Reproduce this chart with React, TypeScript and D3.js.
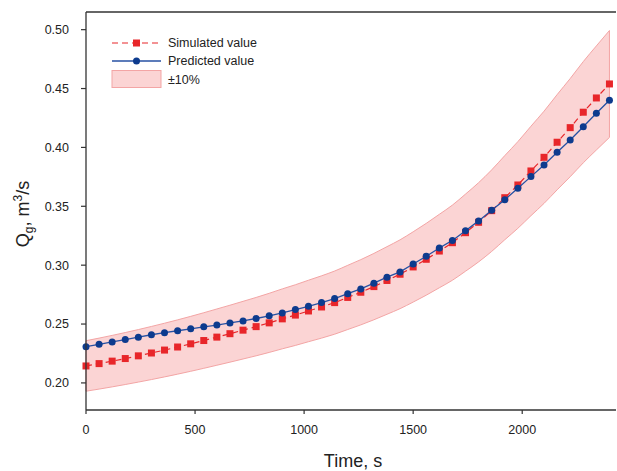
import React from "react";
import * as d3 from "d3";

// Sampling times (s)
const times: number[] = [
  0, 60, 120, 180, 240, 300, 360, 420, 480, 540, 600, 660, 720, 780, 840, 900,
  960, 1020, 1080, 1140, 1200, 1260, 1320, 1380, 1440, 1500, 1560, 1620, 1680,
  1740, 1800, 1860, 1920, 1980, 2040, 2100, 2160, 2220, 2280, 2340, 2400,
];

// Simulated gas flow rate Qg (m³/s)
const simulated: number[] = [
  0.2144, 0.2164, 0.2185, 0.2207, 0.223, 0.2254, 0.2279, 0.2305, 0.2332,
  0.236, 0.2389, 0.2418, 0.2448, 0.2478, 0.251, 0.2544, 0.2576, 0.2611,
  0.2645, 0.2682, 0.2726, 0.277, 0.2818, 0.287, 0.2923, 0.2985, 0.305, 0.312,
  0.3191, 0.3276, 0.3364, 0.3463, 0.3573, 0.3681, 0.38, 0.3916, 0.4044,
  0.4168, 0.4299, 0.442, 0.4539,
];

// Predicted gas flow rate Qg (m³/s)
const predicted: number[] = [
  0.2308, 0.2328, 0.2348, 0.2368, 0.2388, 0.2409, 0.2427, 0.2443, 0.2459,
  0.2476, 0.2491, 0.2509, 0.2526, 0.2547, 0.257, 0.2594, 0.2623, 0.2651,
  0.2682, 0.2716, 0.2758, 0.2798, 0.2847, 0.2898, 0.2943, 0.301, 0.3076,
  0.3146, 0.321, 0.3293, 0.3376, 0.3466, 0.3556, 0.3653, 0.3752, 0.3851,
  0.3959, 0.4063, 0.4176, 0.429, 0.44,
];

const xTicks: number[] = [0, 500, 1000, 1500, 2000];
const yTicks: number[] = [0.2, 0.25, 0.3, 0.35, 0.4, 0.45, 0.5];
const bandFraction = 0.1;

const W = 617;
const H = 471;
const FONT = "Arial, 'Liberation Sans', Helvetica, sans-serif";
const AXIS = "#333333";
const RED = "#e8262a";
const BLUE = "#0d3b8e";
const BLUE_LINE = "#2651a3";
const BAND_FILL = "#fbd4d4";
const BAND_STROKE = "#f3a5a5";

export default function App() {
  const x = d3.scaleLinear().domain([0, 2430]).range([86, 616]);
  const y = d3.scaleLinear().domain([0.177, 0.515]).range([410, 12]);

  const rows = times.map((t, i) => ({ t, s: simulated[i], p: predicted[i] }));

  const band = d3
    .area<{ t: number; s: number }>()
    .curve(d3.curveMonotoneX)
    .x((d) => x(d.t))
    .y0((d) => y(d.s * (1 - bandFraction)))
    .y1((d) => y(d.s * (1 + bandFraction)));

  const line = d3
    .line<{ t: number; v: number }>()
    .x((d) => x(d.t))
    .y((d) => y(d.v));

  const simLine = line(rows.map((r) => ({ t: r.t, v: r.s }))) || "";
  const predLine = line(rows.map((r) => ({ t: r.t, v: r.p }))) || "";

  const [x0, x1] = x.range();
  const [yb, yt] = y.range();
  const sq = 7;

  return (
    <svg
      width={W}
      height={H}
      style={{ position: "absolute", left: 0, top: 0, background: "#fff" }}
      fontFamily={FONT}
    >
      {/* ±10% band */}
      <path
        d={band(rows) || ""}
        fill={BAND_FILL}
        stroke={BAND_STROKE}
        strokeWidth={1}
      />

      {/* simulated series */}
      <path d={simLine} fill="none" stroke={RED} strokeWidth={1.2} strokeDasharray="6,4" />
      {rows.map((r, i) => (
        <rect
          key={"s" + i}
          x={x(r.t) - sq / 2}
          y={y(r.s) - sq / 2}
          width={sq}
          height={sq}
          fill={RED}
        />
      ))}

      {/* predicted series */}
      <path d={predLine} fill="none" stroke={BLUE_LINE} strokeWidth={1.3} />
      {rows.map((r, i) => (
        <circle key={"p" + i} cx={x(r.t)} cy={y(r.p)} r={3.5} fill={BLUE} />
      ))}

      {/* frame: top and bottom lines, left axis */}
      <line x1={x0} x2={x1} y1={yt} y2={yt} stroke={AXIS} strokeWidth={1.3} />
      <line x1={x0} x2={x1} y1={yb} y2={yb} stroke={AXIS} strokeWidth={1.3} />
      <line x1={x0} x2={x0} y1={yt} y2={yb} stroke={AXIS} strokeWidth={1.3} />

      {/* x ticks */}
      {xTicks.map((t) => (
        <g key={"xt" + t}>
          <line x1={x(t)} x2={x(t)} y1={yb} y2={yb + 4} stroke={AXIS} strokeWidth={1.2} />
          <text x={x(t)} y={434} textAnchor="middle" fontSize={12.5} fill="#222">
            {t}
          </text>
        </g>
      ))}

      {/* y ticks */}
      {yTicks.map((v) => (
        <g key={"yt" + v}>
          <line x1={x0 - 5} x2={x0} y1={y(v)} y2={y(v)} stroke={AXIS} strokeWidth={1.2} />
          <text
            x={69}
            y={y(v)}
            dy="0.35em"
            textAnchor="end"
            fontSize={12.5}
            fill="#222"
          >
            {d3.format(".2f")(v)}
          </text>
        </g>
      ))}

      {/* axis titles */}
      <text x={353} y={467} textAnchor="middle" fontSize={18} fill="#222">
        Time, s
      </text>
      <text
        transform={`translate(29,${214}) rotate(-90)`}
        textAnchor="middle"
        fontSize={18}
        fill="#222"
      >
        Q<tspan fontSize={12} dy={4}>g</tspan>
        <tspan dy={-4}>, m</tspan>
        <tspan fontSize={12} dy={-7}>3</tspan>
        <tspan dy={7}>/s</tspan>
      </text>

      {/* legend */}
      <g fontSize={12.5} fill="#222">
        <line x1={112} x2={161} y1={43} y2={43} stroke={RED} strokeWidth={1.2} strokeDasharray="6,4" />
        <rect x={136.5 - sq / 2} y={43 - sq / 2} width={sq} height={sq} fill={RED} />
        <text x={168} y={43} dy="0.35em">Simulated value</text>

        <line x1={112} x2={161} y1={61} y2={61} stroke={BLUE_LINE} strokeWidth={1.3} />
        <circle cx={136.5} cy={61} r={3.5} fill={BLUE} />
        <text x={168} y={61} dy="0.35em">Predicted value</text>

        <rect x={112} y={70.5} width={49} height={17} fill={BAND_FILL} stroke={BAND_STROKE} strokeWidth={1} />
        <text x={168} y={79.5} dy="0.35em">±10%</text>
      </g>
    </svg>
  );
}
